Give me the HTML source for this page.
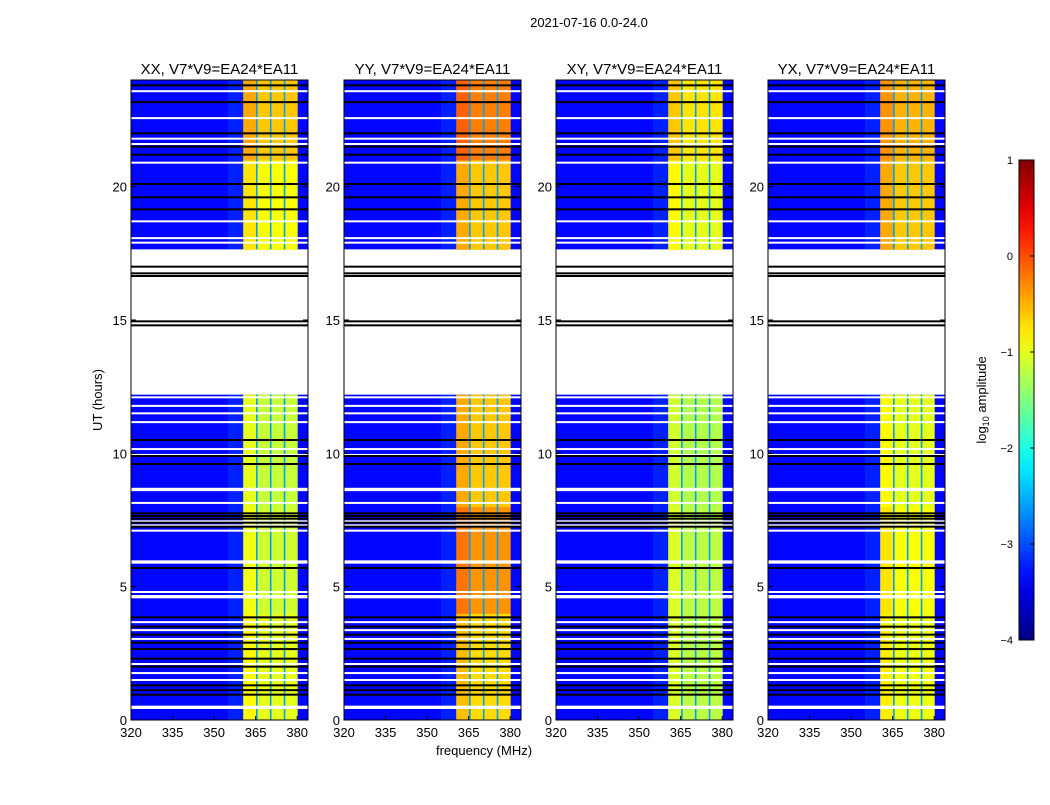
<!DOCTYPE html>
<html><head><meta charset="utf-8"><style>
body{margin:0;background:#fff;font-family:"Liberation Sans",sans-serif}
svg text{font-family:"Liberation Sans",sans-serif}
</style></head><body>
<svg id="fig" width="1050" height="800" xmlns="http://www.w3.org/2000/svg">
<rect width="1050" height="800" fill="#fff"/>
<text x="589" y="27" font-size="13" text-anchor="middle">2021-07-16 0.0-24.0</text>
<text x="484" y="755" font-size="13" text-anchor="middle">frequency (MHz)</text>
<text transform="translate(102,400) rotate(-90)" font-size="13" text-anchor="middle">UT (hours)</text>
<text transform="translate(986,400) rotate(-90)" font-size="13" text-anchor="middle">log<tspan font-size="9" dy="3">10</tspan><tspan dy="-3"> amplitude</tspan></text>
<g id="panels"></g>
<g id="cbar"></g>
</svg>
<script>
const panelNames=["XX, V7*V9=EA24*EA11","YY, V7*V9=EA24*EA11","XY, V7*V9=EA24*EA11","YX, V7*V9=EA24*EA11"];
const panelLeft=[131,344,556,768];
const freqTicks=[320,335,350,365,380];
const hourTicks=[0,5,10,15,20];
const dataSegments=[[0,12.2],[17.65,24]];
const bandSegments=[[0,4],[4,8],[8,12.2],[17.65,21],[21,24]];
const bandCols=[[360.5,365.3],[365.3,370.3],[370.3,375.3],[375.3,380]];
const gapFreqs=[365.5,370.5,375.5];
const levelsXX=[-1.0,-1.1,-1.15,-0.9,-0.6];
const levelsYY=[-0.7,-0.35,-0.6,-0.6,-0.25];
const levelsXY=[-1.2,-1.2,-1.25,-1.0,-0.75];
const levelsYX=[-0.95,-0.9,-1.0,-0.6,-0.5];
const backgroundLevel=-3.35;
const whiteLines=[0.45,0.5,1.5,1.76,2.1,3.04,3.37,3.67,4.6,4.65,4.8,5.9,5.95,7.1,7.3,7.45,8.14,8.62,8.67,9.94,10.16,11.17,11.5,11.78,12.1,17.9,18.07,18.7,20.9,21.6,21.8,22.57,23.58];
const blackLines=[0.95,1.12,1.3,2.0,2.3,2.66,2.9,3.2,3.5,3.85,5.7,7.25,7.4,7.55,7.65,7.75,9.6,9.9,10.5,17.0,16.75,16.65,14.95,14.8,19.15,19.6,20.1,21.2,21.5,22.0,23.17,23.8];
const panelLevels=[levelsXX,levelsYY,levelsXY,levelsYX];
const NS="http://www.w3.org/2000/svg";
function jet(v){let t=(v+4)/5;t=Math.max(0,Math.min(1,t));
 const f=x=>Math.max(0,Math.min(1,x));
 const r=f(Math.min(4*t-1.5,-4*t+4.5)),g=f(Math.min(4*t-0.5,-4*t+3.5)),b=f(Math.min(4*t+0.5,-4*t+2.5));
 return `rgb(${Math.round(r*255)},${Math.round(g*255)},${Math.round(b*255)})`;}
function mk(tag,attrs,parent){const e=document.createElementNS(NS,tag);for(const k in attrs)e.setAttribute(k,attrs[k]);parent.appendChild(e);return e;}
const top0=80,bot0=720,W=177;
const yS=h=>bot0-(h/24)*(bot0-top0);
const panels=document.getElementById('panels');
panelNames.forEach((name,p)=>{
 const L=panelLeft[p];const xS=f=>L+(f-320)/(383.9-320)*W;
 const g=mk('g',{},panels);
 
 
 dataSegments.forEach(s=>{const r=mk('rect',{x:L,y:yS(s[1]),width:W,height:yS(s[0])-yS(s[1]),fill:jet(backgroundLevel)},g);
  
  const hz=mk('rect',{x:xS(355),y:yS(s[1]),width:xS(360.5)-xS(355),height:yS(s[0])-yS(s[1]),fill:jet(-2.9),opacity:0.3},g);
  });
 bandSegments.forEach((s,i)=>{bandCols.forEach((c,j)=>{
  const v=panelLevels[p][i]+(j===0?0.15:0);
  const r=mk('rect',{x:xS(c[0]),y:yS(s[1]),width:xS(c[1])-xS(c[0])+0.5,height:yS(s[0])-yS(s[1])+0.5,fill:jet(v)},g);
  });});
 dataSegments.forEach(s=>{gapFreqs.forEach(f=>{const r=mk('rect',{x:xS(f)-1,y:yS(s[1]),width:1.6,height:yS(s[0])-yS(s[1]),fill:jet(-2.6)},g);
  });});
 whiteLines.forEach(h=>{const r=mk('rect',{x:L,y:yS(h)-1,width:W,height:2,fill:'#fff'},g);
  });
 blackLines.forEach(h=>{const r=mk('rect',{x:L,y:yS(h)-1,width:W,height:2,fill:'#000'},g);
  });
 const fr=mk('rect',{x:L,y:top0,width:W,height:bot0-top0,fill:'none',stroke:'#000','stroke-width':1},g);
 
 const t=mk('text',{x:L+W/2,y:74,'font-size':15,'text-anchor':'middle'},g);t.textContent=name;
 
 freqTicks.forEach(f=>{const x=xS(f);mk('line',{x1:x,x2:x,y1:bot0,y2:bot0-4,stroke:'#000'},g);
  const tx=mk('text',{x:x,y:737,'font-size':13,'text-anchor':'middle'},g);tx.textContent=f;
  });
 hourTicks.forEach(h=>{const y=yS(h);mk('line',{x1:L,x2:L+5,y1:y,y2:y,stroke:'#000'},g);mk('line',{x1:L+W,x2:L+W-5,y1:y,y2:y,stroke:'#000'},g);
  const tx=mk('text',{x:L-4,y:y+5,'font-size':13,'text-anchor':'end'},g);tx.textContent=h;
  });
});
const cb=document.getElementById('cbar');
const defs=mk('defs',{},cb);const lg=mk('linearGradient',{id:'jetg',x1:0,y1:1,x2:0,y2:0},defs);
for(let i=0;i<=20;i++)mk('stop',{offset:i/20,'stop-color':jet(-4+5*i/20)},lg);
const cr=mk('rect',{x:1019,y:160,width:15,height:480,fill:'url(#jetg)',stroke:'#000'},cb);

const cbTicks=[1,0,-1,-2,-3,-4];
cbTicks.forEach(v=>{const y=640-(v+4)/5*480;mk('line',{x1:1034,x2:1030,y1:y,y2:y,stroke:'#000'},cb);
 const tx=mk('text',{x:1013,y:y+4,'font-size':11,'text-anchor':'end'},cb);tx.textContent=v<0?'\u2212'+(-v):v;
 });
</script>
</body></html>
